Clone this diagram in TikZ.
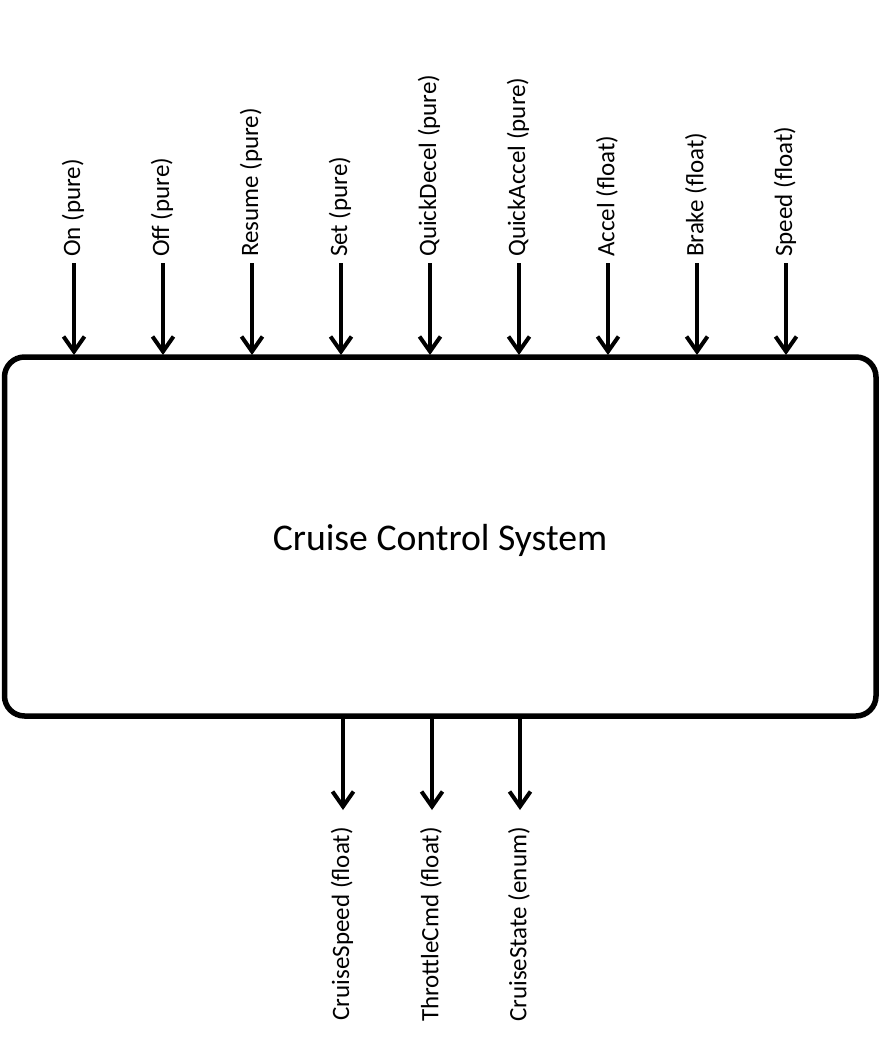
\documentclass[tikz,border=0pt]{standalone}
\usepackage{fontspec}
\setmainfont{Carlito}
\usetikzlibrary{arrows.meta}
\begin{document}
\begin{tikzpicture}[x=1pt,y=-1pt,
  sig/.style={line width=4pt,-{Straight Barb[length=15pt,width=21pt,line width=4pt]}},
  inlbl/.style={rotate=90,anchor=west,inner sep=0pt,font=\fontsize{25}{30}\selectfont},
  outlbl/.style={rotate=90,anchor=east,inner sep=0pt,font=\fontsize{25}{30}\selectfont}]
\useasboundingbox (0,0) rectangle (881,1049);
\node[draw,line width=5.5pt,rounded corners=20pt,minimum width=871.5pt,minimum height=359pt] (sys) at (440.25,536.5) {};
\node[inner sep=0pt,font=\fontsize{37.7}{44}\selectfont] (title) at (440,540) {Cruise Control System};
\foreach \n/\x/\t in {on/74/On (pure),off/163/Off (pure),res/252/Resume (pure),set/341/Set (pure),
  qd/430/QuickDecel (pure),qa/519/QuickAccel (pure),acc/608/Accel (float),brk/697/Brake (float),spd/786/Speed (float)}{
  \coordinate (\n s) at (\x,263);
  \coordinate (\n e) at (\x,355);
  \node[inlbl] (\n l) at (\x-1,257) {\t};
  \draw[sig] (\n s) -- (\n e);
}
\foreach \n/\x/\t in {cs/343/CruiseSpeed (float),tc/432/ThrottleCmd (float),st/520/CruiseState (enum)}{
  \coordinate (\n s) at (\x,718);
  \coordinate (\n e) at (\x,810);
  \node[outlbl] (\n l) at (\x-1,827) {\t};
  \draw[sig] (\n s) -- (\n e);
}
\end{tikzpicture}
\end{document}
